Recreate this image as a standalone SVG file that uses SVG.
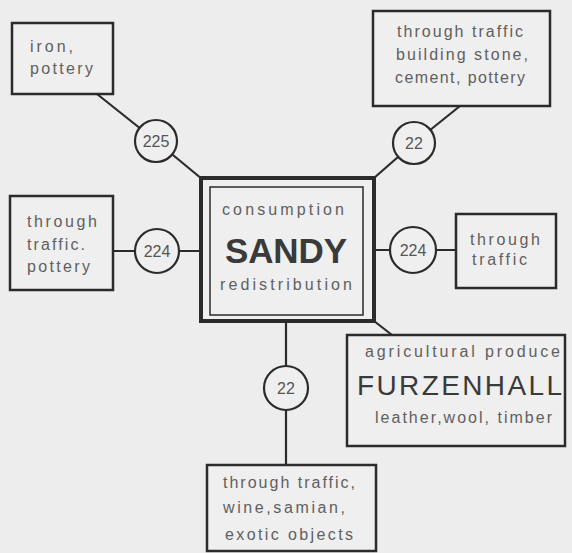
<svg xmlns="http://www.w3.org/2000/svg" width="572" height="553" viewBox="0 0 572 553">
<style>
.bg{fill:#ededed}
.box{fill:#efefef;stroke:#2b2b2b;stroke-width:2.5}
.circ{fill:#efefef;stroke:#2b2b2b;stroke-width:2.2}
.ln{stroke:#2b2b2b;stroke-width:2.2;fill:none}
.t{font-family:"Liberation Sans",Arial,sans-serif;font-size:16px;fill:#606060}
.n{font-family:"Liberation Sans",Arial,sans-serif;font-size:16px;fill:#555;text-anchor:middle}
</style>
<rect class="bg" x="0" y="0" width="572" height="553"/>
<g id="connectors">
<line class="ln" x1="97" y1="94" x2="156" y2="141"/>
<line class="ln" x1="156" y1="141" x2="202" y2="179"/>
<line class="ln" x1="460" y1="106" x2="414" y2="143"/>
<line class="ln" x1="414" y1="143" x2="374" y2="178"/>
<line class="ln" x1="113" y1="251" x2="200" y2="251"/>
<line class="ln" x1="375" y1="250" x2="456" y2="250"/>
<line class="ln" x1="286" y1="322" x2="286" y2="465"/>
<line class="ln" x1="374" y1="321" x2="392" y2="335" stroke-width="3"/>
</g>
<g id="iron">
<rect class="box" x="12" y="23" width="101" height="71"/>
<text class="t" x="30" y="52" textLength="43" lengthAdjust="spacing">iron,</text>
<text class="t" x="30" y="74" textLength="63" lengthAdjust="spacing">pottery</text>
</g>
<g id="c225">
<circle class="circ" cx="156" cy="141" r="21"/>
<text class="n" x="156" y="147">225</text>
</g>
<g id="topright">
<rect class="box" x="373" y="11" width="177" height="95"/>
<text class="t" x="397" y="37" textLength="126" lengthAdjust="spacing">through traffic</text>
<text class="t" x="396" y="60" textLength="132" lengthAdjust="spacing">building stone,</text>
<text class="t" x="395" y="83" textLength="130" lengthAdjust="spacing">cement, pottery</text>
</g>
<g id="c22top">
<circle class="circ" cx="414" cy="143" r="21"/>
<text class="n" x="414" y="149">22</text>
</g>
<g id="left">
<rect class="box" x="10" y="196" width="103" height="94"/>
<text class="t" x="27" y="227" textLength="70" lengthAdjust="spacing">through</text>
<text class="t" x="27" y="250" textLength="58" lengthAdjust="spacing">traffic.</text>
<text class="t" x="27" y="272" textLength="63" lengthAdjust="spacing">pottery</text>
</g>
<g id="c224left">
<circle class="circ" cx="157" cy="251" r="22"/>
<text class="n" x="157" y="257">224</text>
</g>
<g id="sandy">
<rect x="201" y="178" width="173" height="143" fill="#efefef" stroke="#2b2b2b" stroke-width="4"/>
<rect x="210" y="187" width="153" height="128" fill="none" stroke="#2b2b2b" stroke-width="1.5"/>
<text class="t" x="222" y="215" textLength="122" lengthAdjust="spacing">consumption</text>
<text x="225" y="263" font-family="Liberation Sans,Arial,sans-serif" font-size="35" font-weight="bold" fill="#3a3a3a" textLength="122" lengthAdjust="spacing">SANDY</text>
<text class="t" x="220" y="290" textLength="132" lengthAdjust="spacing">redistribution</text>
</g>
<g id="c224right">
<circle class="circ" cx="413" cy="250" r="23"/>
<text class="n" x="413" y="256">224</text>
</g>
<g id="right">
<rect class="box" x="456" y="214" width="100" height="74"/>
<text class="t" x="470" y="245" textLength="70" lengthAdjust="spacing">through</text>
<text class="t" x="472" y="265" textLength="55" lengthAdjust="spacing">traffic</text>
</g>
<g id="furzenhall">
<rect class="box" x="347" y="335" width="218" height="111" stroke-width="3"/>
<text class="t" x="365" y="357" textLength="195" lengthAdjust="spacing">agricultural produce</text>
<text x="357" y="395" font-family="Liberation Sans,Arial,sans-serif" font-size="28" fill="#3a3a3a" textLength="205" lengthAdjust="spacing">FURZENHALL</text>
<text class="t" x="375" y="423" textLength="177" lengthAdjust="spacing">leather,wool, timber</text>
</g>
<g id="c22bottom">
<circle class="circ" cx="286" cy="388" r="22"/>
<text class="n" x="286" y="394">22</text>
</g>
<g id="bottom">
<rect class="box" x="207" y="465" width="169" height="86"/>
<text class="t" x="223" y="488" textLength="132" lengthAdjust="spacing">through traffic,</text>
<text class="t" x="223" y="513" textLength="122" lengthAdjust="spacing">wine,samian,</text>
<text class="t" x="225" y="540" textLength="128" lengthAdjust="spacing">exotic objects</text>
</g>
</svg>
